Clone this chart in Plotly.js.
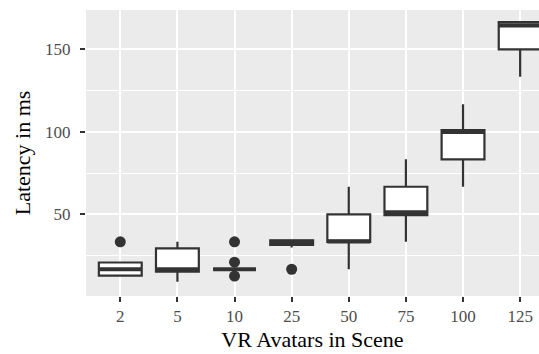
<!DOCTYPE html>
<html>
<head>
<meta charset="utf-8">
<script src="https://cdn.plot.ly/plotly-3.0.1.min.js"></script>
<style>html,body{margin:0;padding:0;background:#fff;}#chart{width:539px;height:354px;}</style>
</head>
<body>
<div id="chart"></div>
<script>
// Data (latency in ms)
const categories = ["2", "5", "10", "25", "50", "75", "100", "125"];
const q1Values     = [12.9, 15.2, 16.7, 31.4, 33.3, 49.5, 83.3, 150.0];
const medianValues = [16.7, 16.7, 16.7, 33.3, 33.6, 51.2, 100.0, 164.5];
const q3Values     = [20.8, 29.4, 16.7, 34.2, 50.0, 66.7, 101.0, 166.5];
const lowerWhisker = [12.9, 9.2, 16.7, 29.9, 16.7, 33.3, 66.7, 133.3];
const upperWhisker = [20.8, 33.3, 16.7, 34.2, 66.7, 83.3, 116.7, 166.5];
const outlierCategory = ["2", "10", "10", "10", "25"];
const outlierValues   = [33.3, 33.3, 21.0, 12.6, 16.7];

const pos = categories.map((c, i) => i);
const boxWidth = 0.75;
const dark = "#333333";

const boxTrace = {
  type: "box",
  x: pos,
  q1: q1Values, median: medianValues, q3: q3Values,
  lowerfence: lowerWhisker, upperfence: upperWhisker,
  width: boxWidth,
  whiskerwidth: 0,
  fillcolor: "#FFFFFF",
  line: {color: dark, width: 2.2},
  boxpoints: false,
  hoverinfo: "skip",
  showlegend: false
};

// thicker median lines like ggplot (fatten = 2)
const mx = [], my = [];
medianValues.forEach((m, i) => {
  mx.push(i - boxWidth / 2, i + boxWidth / 2, null);
  my.push(m, m, null);
});
const medianTrace = {
  type: "scatter", mode: "lines", x: mx, y: my,
  line: {color: dark, width: 4.2}, hoverinfo: "skip", showlegend: false
};

const outlierTrace = {
  type: "scatter", mode: "markers",
  x: outlierCategory.map(c => categories.indexOf(c)),
  y: outlierValues,
  marker: {color: dark, size: 11, line: {width: 0}},
  hoverinfo: "skip", showlegend: false
};

const fontFam = "Liberation Serif, Times New Roman, serif";
const layout = {
  width: 539, height: 354,
  margin: {l: 86, r: 0, t: 10, b: 58},
  paper_bgcolor: "#FFFFFF",
  plot_bgcolor: "#EBEBEB",
  font: {family: fontFam, color: "#000000"},
  xaxis: {
    range: [-0.6, 7.33],
    tickvals: pos, ticktext: categories,
    showgrid: true, gridcolor: "#FFFFFF", gridwidth: 2,
    zeroline: false, showline: false,
    ticks: "outside", ticklen: 5, tickwidth: 2, tickcolor: dark,
    tickfont: {family: fontFam, size: 17, color: "#4D4D4D"},
    title: {text: "VR Avatars in Scene", font: {family: fontFam, size: 22, color: "#000000"}, standoff: 6}
  },
  yaxis: {
    range: [0.5, 173.8],
    tick0: 0, dtick: 50,
    showgrid: true, gridcolor: "#FFFFFF", gridwidth: 2,
    minor: {dtick: 25, tick0: 0, showgrid: true, gridcolor: "#FFFFFF", gridwidth: 1, ticks: ""},
    zeroline: false, showline: false,
    ticks: "outside", ticklen: 5, tickwidth: 2, tickcolor: dark,
    ticklabelstandoff: 6,
    tickfont: {family: fontFam, size: 17, color: "#4D4D4D"},
    title: {text: "Latency in ms", font: {family: fontFam, size: 22, color: "#000000"}, standoff: 8}
  }
};

Plotly.newPlot("chart", [boxTrace, medianTrace, outlierTrace], layout, {displayModeBar: false, staticPlot: true});
</script>
</body>
</html>
